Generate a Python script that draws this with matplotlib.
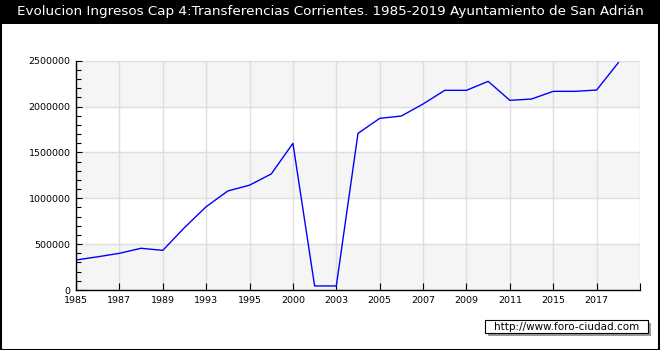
#!/usr/bin/env python3
"""Evolucion Ingresos Cap 4 - San Adrian."""

import matplotlib

matplotlib.use("Agg")
import matplotlib.pyplot as plt
from matplotlib.patches import Rectangle
from matplotlib.ticker import MultipleLocator, FuncFormatter

# data
years = ["1985", "1986", "1987", "1988", "1989", "1992", "1993", "1994", "1995",
         "1999", "2000", "2002", "2003", "2004", "2005", "2006", "2007", "2008",
         "2009", "2010", "2011", "2013", "2015", "2016", "2017", "2019"]
ingresos = [327000, 362000, 400000, 455000, 432000, 680000, 908000, 1080000,
            1143000, 1265000, 1599000, 44000, 44000, 1708000, 1871000, 1897000,
            2028000, 2177000, 2177000, 2275000, 2068000, 2082000, 2166000,
            2166000, 2180000, 2478000]
title = "Evolucion Ingresos Cap 4:Transferencias Corrientes. 1985-2019 Ayuntamiento de San Adrián"
watermark = "http://www.foro-ciudad.com"

W, H = 660, 350
fig = plt.figure(figsize=(W / 100, H / 100), dpi=100)
fig.patch.set_facecolor("white")

# title bar
fig.patches.append(Rectangle((0, 1 - 24 / H), 1, 24 / H, transform=fig.transFigure,
                             facecolor="black", edgecolor="none", zorder=0))
fig.text(0.5, 1 - 12 / H, title, color="white", fontsize=9.7, ha="center", va="center",
         family="DejaVu Sans")
# outer border
fig.patches.append(Rectangle((0.5 / W, 0.5 / H), 1 - 2 / W, 1 - 1.5 / H,
                             transform=fig.transFigure, facecolor="none",
                             edgecolor="black", linewidth=1.5, zorder=5))

ax = fig.add_axes([76 / W, 1 - 290 / H, (640 - 76) / W, (290 - 60.7) / H])
ax.set_facecolor("white")
for lo in (0, 1000000, 2000000):
    ax.axhspan(lo, lo + 500000, color="#f5f5f5", zorder=0, lw=0)

x = list(range(len(years)))
ax.plot(x, ingresos, color="blue", linewidth=1, zorder=3)

ax.set_xlim(0, len(years))
ax.set_ylim(0, 2500000)
ax.set_xticks(range(0, len(years) + 1, 2))
ax.set_xticklabels(years[::2] + [""])
ax.yaxis.set_major_locator(MultipleLocator(500000))
ax.yaxis.set_minor_locator(MultipleLocator(100000))
ax.yaxis.set_major_formatter(FuncFormatter(lambda v, p: f"{int(v)}"))
ax.tick_params(axis="both", which="both", direction="in", labelsize=6.8, pad=4,
               colors="black")
ax.tick_params(axis="x", which="major", length=5)
ax.tick_params(axis="y", which="major", length=4)
ax.tick_params(axis="y", which="minor", length=3.5, width=0.8)
ax.grid(True, which="major", color="#dddddd", linewidth=1, zorder=1)
ax.set_axisbelow(True)
for s in ("top", "right"):
    ax.spines[s].set_visible(False)
for s in ("left", "bottom"):
    ax.spines[s].set_linewidth(1)
    ax.spines[s].set_zorder(4)

# watermark box with shadow
fig.patches.append(Rectangle((488 / W, 1 - 336 / H), 163 / W, 13 / H,
                             transform=fig.transFigure, facecolor="#999999",
                             edgecolor="none", zorder=2))
fig.patches.append(Rectangle((485 / W, 1 - 333 / H), 163 / W, 13 / H,
                             transform=fig.transFigure, facecolor="white",
                             edgecolor="black", linewidth=0.8, zorder=3))
fig.text(566.5 / W, 1 - 326.8 / H, watermark, fontsize=7.5, ha="center", va="center",
         zorder=4)

fig.savefig("out.png", dpi=100)
